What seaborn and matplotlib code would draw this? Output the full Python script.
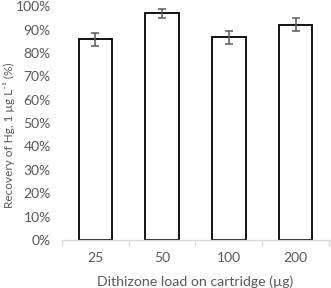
import matplotlib
matplotlib.use("Agg")
import matplotlib.pyplot as plt
import numpy as np
import pandas as pd
import seaborn as sns
from matplotlib.ticker import PercentFormatter, FixedLocator

loads = ["25", "50", "100", "200"]
recovery = [85.8, 96.9, 86.6, 92.0]
err = [2.8, 2.0, 2.7, 2.8]

df = pd.DataFrame({"load": loads, "recovery": recovery})

sns.set_theme(style="white")
plt.rcParams["font.family"] = ["Lato", "DejaVu Sans"]
text_col = "#595959"

fig = plt.figure(figsize=(3.31, 2.88), dpi=100)
ax = fig.add_axes([0.187, 0.1667, 0.807, 0.812])

sns.barplot(data=df, x="load", y="recovery", color="white", edgecolor="black",
            linewidth=1.3, width=0.5, errorbar=None, ax=ax)
ax.errorbar(np.arange(len(loads)), recovery, yerr=err, fmt="none",
            ecolor=text_col, elinewidth=1.1, capsize=2.8, capthick=1.1)

ax.set_ylim(0, 100)
ax.set_xlim(-0.5, len(loads) - 0.5)
ax.set_yticks(np.arange(0, 101, 10))
ax.yaxis.set_major_formatter(PercentFormatter(decimals=0))

for s in ["top", "right", "left"]:
    ax.spines[s].set_visible(False)
ax.spines["bottom"].set_color("#d9d9d9")
ax.spines["bottom"].set_linewidth(1)

ax.tick_params(axis="y", length=0, pad=8, labelsize=10, labelcolor=text_col)
ax.tick_params(axis="x", which="major", length=0, pad=9, labelsize=10, labelcolor=text_col)
ax.xaxis.set_minor_locator(FixedLocator(np.arange(-0.5, len(loads), 1)))
ax.tick_params(axis="x", which="minor", length=4, width=1, color="#d9d9d9", bottom=True)

ax.set_xlabel("Dithizone load on cartridge (µg)", fontsize=10.2, color=text_col, labelpad=8)
ax.set_ylabel("Recovery of Hg, 1 µg L\u207b\u00b9 (%)", fontsize=8.5, color=text_col)
ax.yaxis.set_label_coords(-0.176, 0.45)

fig.savefig("out.png", dpi=100)
